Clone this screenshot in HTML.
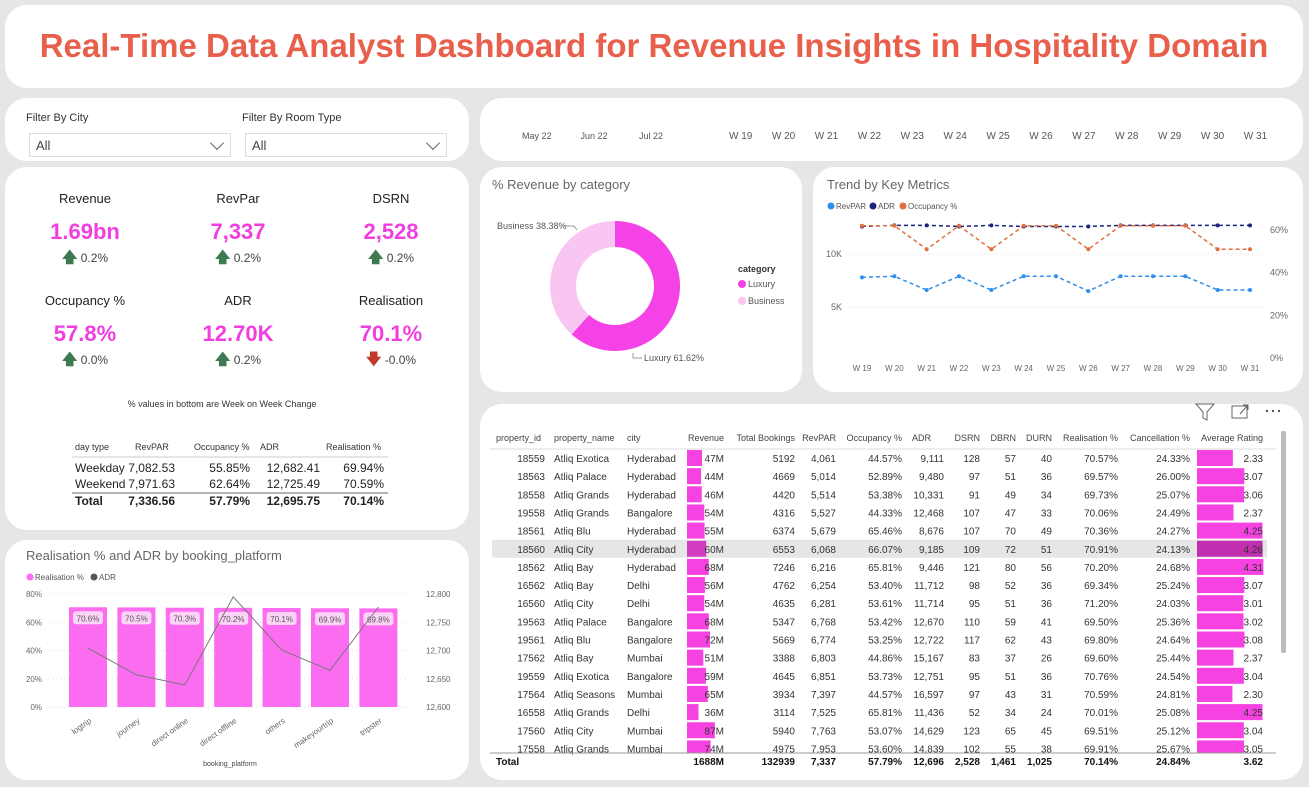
<!DOCTYPE html>
<html><head><meta charset="utf-8">
<style>
*{box-sizing:border-box;margin:0;padding:0}
body{width:1309px;height:787px;background:#e6e6e6;font-family:"Liberation Sans",sans-serif;position:relative;overflow:hidden;color:#333}
.p{position:absolute;background:#fff;border-radius:22px}
.t{position:absolute;white-space:nowrap}
svg{position:absolute;left:0;top:0}
.dd{position:absolute;border:1px solid #ddd;height:24px;font-size:13px;color:#444;padding:4px 6px}
.dd:after{content:"";position:absolute;right:8px;top:4px;width:9px;height:9px;border-right:1px solid #666;border-bottom:1px solid #666;transform:rotate(45deg)}
.kl{position:absolute;width:150px;text-align:center;font-size:13px;color:#222}
.kv{position:absolute;width:150px;text-align:center;font-size:22px;font-weight:bold;color:#f03ee0}
.kc{position:absolute;width:150px;text-align:center;font-size:12px;color:#444}
.up{color:#3d7a52;font-weight:bold;font-size:15px}
.dn{color:#c0392b;font-weight:bold;font-size:15px}
</style></head><body>
<div class="p" style="left:5px;top:5px;width:1298px;height:83px"></div>
<div class="t" style="left:5px;width:1298px;top:27px;text-align:center;font-size:33px;font-weight:bold;color:#e8604c">Real-Time Data Analyst Dashboard for Revenue Insights in Hospitality Domain</div>

<div class="p" style="left:5px;top:98px;width:464px;height:63px"></div>
<div class="t" style="left:26px;top:112px;font-size:11px;color:#333">Filter By City</div>
<div class="dd" style="left:29px;top:133px;width:202px">All</div>
<div class="t" style="left:242px;top:112px;font-size:11px;color:#333">Filter By Room Type</div>
<div class="dd" style="left:245px;top:133px;width:202px">All</div>

<div class="p" style="left:480px;top:98px;width:823px;height:63px"></div>
<div id="timeline"></div>

<div class="p" style="left:5px;top:167px;width:464px;height:363px"></div>
<div id="kpis"></div>
<div class="t" style="left:5px;width:434px;top:399px;text-align:center;font-size:9px;color:#333">% values in bottom are Week on Week Change</div>
<div id="daytable"></div>

<div class="p" style="left:480px;top:167px;width:322px;height:225px"></div>
<div class="t" style="left:492px;top:177px;font-size:13px;color:#666">% Revenue by category</div>
<div class="p" style="left:813px;top:167px;width:490px;height:225px"></div>
<div class="t" style="left:827px;top:177px;font-size:13px;color:#666">Trend by Key Metrics</div>

<div class="p" style="left:5px;top:540px;width:464px;height:240px"></div>
<div class="t" style="left:26px;top:548px;font-size:13px;color:#666">Realisation % and ADR by booking_platform</div>

<div class="p" style="left:480px;top:404px;width:823px;height:376px"></div>
<div id="proptable"></div>

<svg id="sv" width="1309" height="787"></svg>

<script>
// ---------- data ----------
const kpiLabels=["Revenue","RevPar","DSRN","Occupancy %","ADR","Realisation"];
const kpiValues=["1.69bn","7,337","2,528","57.8%","12.70K","70.1%"];
const kpiChanges=["0.2%","0.2%","0.2%","0.0%","0.2%","-0.0%"];

const dayHeaders=["day type","RevPAR","Occupancy %","ADR","Realisation %"];
const dayRows=[["Weekday","7,082.53","55.85%","12,682.41","69.94%"],["Weekend","7,971.63","62.64%","12,725.49","70.59%"],["Total","7,336.56","57.79%","12,695.75","70.14%"]];

const donutCats=["Luxury","Business"];
const donutVals=[61.62,38.38];

const weeks=["W 19","W 20","W 21","W 22","W 23","W 24","W 25","W 26","W 27","W 28","W 29","W 30","W 31"];
const revparK=[7.8,7.9,6.6,7.9,6.6,7.9,7.9,6.5,7.9,7.9,7.9,6.6,6.6];
const adrK=[12.6,12.7,12.7,12.6,12.7,12.6,12.6,12.6,12.7,12.7,12.7,12.7,12.7];
const occPct=[62,62,51,62,51,62,62,51,62,62,62,51,51];
const trendLeftTicks=[5,10];
const trendRightTicks=[0,20,40,60];

const platforms=["logtrip","journey","direct online","direct offline","others","makeyourtrip","tripster"];
const realPct=[70.6,70.5,70.3,70.2,70.1,69.9,69.8];
const platAdr=[12704,12657,12639,12795,12701,12665,12777];
const platLeftTicks=[0,20,40,60,80];
const platRightTicks=[12600,12650,12700,12750,12800];

const months=["May 22","Jun 22","Jul 22"];

const tHeaders=["property_id","property_name","city","Revenue","Total Bookings","RevPAR","Occupancy %","ADR","DSRN","DBRN","DURN","Realisation %","Cancellation %","Average Rating"];
const ids=["18559","18563","18558","19558","18561","18560","18562","16562","16560","19563","19561","17562","19559","17564","16558","17560","17558"];
const pnames=["Atliq Exotica","Atliq Palace","Atliq Grands","Atliq Grands","Atliq Blu","Atliq City","Atliq Bay","Atliq Bay","Atliq City","Atliq Palace","Atliq Blu","Atliq Bay","Atliq Exotica","Atliq Seasons","Atliq Grands","Atliq City","Atliq Grands"];
const cities=["Hyderabad","Hyderabad","Hyderabad","Bangalore","Hyderabad","Hyderabad","Hyderabad","Delhi","Delhi","Bangalore","Bangalore","Mumbai","Bangalore","Mumbai","Delhi","Mumbai","Mumbai"];
const revenueM=[47,44,46,54,55,60,68,56,54,68,72,51,59,65,36,87,74];
const bookings=[5192,4669,4420,4316,6374,6553,7246,4762,4635,5347,5669,3388,4645,3934,3114,5940,4975];
const revpar=["4,061","5,014","5,514","5,527","5,679","6,068","6,216","6,254","6,281","6,768","6,774","6,803","6,851","7,397","7,525","7,763","7,953"];
const occ=["44.57%","52.89%","53.38%","44.33%","65.46%","66.07%","65.81%","53.40%","53.61%","53.42%","53.25%","44.86%","53.73%","44.57%","65.81%","53.07%","53.60%"];
const adr=["9,111","9,480","10,331","12,468","8,676","9,185","9,446","11,712","11,714","12,670","12,722","15,167","12,751","16,597","11,436","14,629","14,839"];
const dsrn=[128,97,91,107,107,109,121,98,95,110,117,83,95,97,52,123,102];
const dbrn=[57,51,49,47,70,72,80,52,51,59,62,37,51,43,34,65,55];
const durn=[40,36,34,33,49,51,56,36,36,41,43,26,36,31,24,45,38];
const realis=["70.57%","69.57%","69.73%","70.06%","70.36%","70.91%","70.20%","69.34%","71.20%","69.50%","69.80%","69.60%","70.76%","70.59%","70.01%","69.51%","69.91%"];
const cancel=["24.33%","26.00%","25.07%","24.49%","24.27%","24.13%","24.68%","25.24%","24.03%","25.36%","24.64%","25.44%","24.54%","24.81%","25.08%","25.12%","25.67%"];
const rating=[2.33,3.07,3.06,2.37,4.25,4.26,4.31,3.07,3.01,3.02,3.08,2.37,3.04,2.30,4.25,3.04,3.05];
const totals=["Total","","","1688M","132939","7,337","57.79%","12,696","2,528","1,461","1,025","70.14%","24.84%","3.62"];

// ---------- helpers ----------
const NS="http://www.w3.org/2000/svg";
const sv=document.getElementById('sv');
function S(tag,at,parent){const e=document.createElementNS(NS,tag);for(const k in at)e.setAttribute(k,at[k]);(parent||sv).appendChild(e);return e;}
function T(x,y,txt,at){const e=S('text',Object.assign({x:x,y:y,'font-size':9,fill:'#666','font-family':'Liberation Sans, sans-serif'},at||{}));e.textContent=txt;return e;}
function D(cls,l,t,txt,extra,parent){const d=document.createElement('div');d.className=cls||'t';d.style.cssText='position:absolute;white-space:nowrap;left:'+l+'px;top:'+t+'px;'+(extra||'');d.innerHTML=txt;(parent||document.body).appendChild(d);return d;}

// ---------- timeline ----------
const tl=document.getElementById('timeline');
months.forEach((m,i)=>{const d=D('t',522+i*58.5,131,m,'font-size:9px;color:#555',tl);

});
weeks.forEach((w,i)=>{const d=D('t',729+i*42.9,131,w,'font-size:10px;color:#555',tl);

});

// ---------- KPIs ----------
const kp=document.getElementById('kpis');
kpiLabels.forEach((l,i)=>{const cx=[85,238,391][i%3]-75;const r=Math.floor(i/3);const y0=191+r*102;
const a=D('kl',cx,y0,l,'',kp);
const b=D('kv',cx,y0+28,kpiValues[i],'',kp);
const neg=kpiChanges[i].startsWith('-');
const c=D('kc',cx,y0+56,(neg?'<span class="dn">🡇</span>':'<span class="up">🡅</span>')+' '+kpiChanges[i],'',kp);
});

// ---------- day table ----------
const dt=document.getElementById('daytable');
const dxL=[75,135,194,260,326],dxR=[null,175,250,320,384];
dayHeaders.forEach((h,i)=>{const e=D('t',dxL[i],442,h,'font-size:9px;color:#333',dt);});
S('line',{x1:72,x2:388,y1:457,y2:457,stroke:'#ccc'});
S('line',{x1:72,x2:388,y1:493,y2:493,stroke:'#666'});
dayRows.forEach((r,ri)=>{const y=[461,477,494][ri];r.forEach((v,ci)=>{const bold=ri==2?'font-weight:bold;':'';
const e=ci==0?D('t',75,y,v,'font-size:12px;color:#222;'+bold,dt):D('t',dxR[ci]-80,y,v,'font-size:12px;color:#222;width:80px;text-align:right;'+bold,dt);
});});

// ---------- donut ----------
(function(){const cx=615,cy=286,R=65,r=39;let a0=-Math.PI/2;const cols=['#f542e6','#f9c6f2'];const tot=donutVals.reduce((a,b)=>a+b,0);
donutVals.forEach((v,i)=>{const a1=a0+v/tot*2*Math.PI;const lg=(a1-a0)>Math.PI?1:0;
const p=S('path',{d:`M${cx+R*Math.cos(a0)},${cy+R*Math.sin(a0)} A${R},${R} 0 ${lg} 1 ${cx+R*Math.cos(a1)},${cy+R*Math.sin(a1)} L${cx+r*Math.cos(a1)},${cy+r*Math.sin(a1)} A${r},${r} 0 ${lg} 0 ${cx+r*Math.cos(a0)},${cy+r*Math.sin(a0)} Z`,fill:cols[i]});

a0=a1;});
T(497,229,'Business '+donutVals[1].toFixed(2)+'%',{'font-size':9,fill:'#555'});
S('polyline',{points:'564,226 574,226 577,230',fill:'none',stroke:'#999'});
T(644,361,'Luxury '+donutVals[0].toFixed(2)+'%',{'font-size':9,fill:'#555'});
S('polyline',{points:'633,353 633,358 642,358',fill:'none',stroke:'#999'});
T(738,272,'category',{'font-size':9,fill:'#333','font-weight':'bold'});
donutCats.forEach((c,i)=>{S('circle',{cx:742,cy:284+i*17,r:4,fill:cols[i]});T(748,287+i*17,c,{'font-size':9,fill:'#555'});});})();

// ---------- trend ----------
(function(){const x=i=>862+i*(1250-862)/(weeks.length-1);const yl=v=>360-v*10.6;const yr=v=>358-v*2.133;
[['RevPAR','#2f8ff0'],['ADR','#1a237e'],['Occupancy %','#e07040']].forEach((l,i)=>{const lx=[831,873,903][i];S('circle',{cx:lx,cy:206,r:3.5,fill:l[1]});T(lx+5,209,l[0],{'font-size':8,fill:'#555'});});
trendLeftTicks.forEach(t=>{T(842,yl(t)+3,t+'K',{'font-size':9,'text-anchor':'end'});S('line',{x1:848,x2:1262,y1:yl(t),y2:yl(t),stroke:'#ddd','stroke-dasharray':'1,3'});});
trendRightTicks.forEach(t=>T(1270,yr(t)+3,t+'%',{'font-size':9}));
weeks.forEach((w,i)=>T(x(i),371,w,{'font-size':8,'text-anchor':'middle'}));
function line(vals,yf,col,name){const g=S('g',{});
S('polyline',{points:vals.map((v,i)=>x(i)+','+yf(v)).join(' '),fill:'none',stroke:col,'stroke-width':1.5,'stroke-dasharray':'4,3'},g);
vals.forEach((v,i)=>S('circle',{cx:x(i),cy:yf(v),r:2,fill:col},g));}
line(revparK,yl,'#2f8ff0','revpar-line');line(adrK,yl,'#1a237e','adr-line');line(occPct,yr,'#e07040','occupancy-line');})();

// ---------- platform chart ----------
(function(){const x=i=>88+i*48.4;const yl=v=>707-v*113/80;const yr=v=>707-(v-12600)*113/200;
S('circle',{cx:30,cy:577,r:3.5,fill:'#fc6cf0'});T(35,580,'Realisation %',{'font-size':8,fill:'#555'});
S('circle',{cx:94,cy:577,r:3.5,fill:'#555'});T(99,580,'ADR',{'font-size':8,fill:'#555'});
platLeftTicks.forEach(t=>{T(42,yl(t)+3,t+'%',{'font-size':8,'text-anchor':'end'});S('line',{x1:48,x2:408,y1:yl(t),y2:yl(t),stroke:'#ddd','stroke-dasharray':'1,3'});});
platRightTicks.forEach(t=>T(426,yr(t)+3,t.toLocaleString('en-US'),{'font-size':8}));
platforms.forEach((p,i)=>{const b=S('rect',{x:x(i)-19,y:yl(realPct[i]),width:38,height:707-yl(realPct[i]),fill:'#fc6cf0'});

S('rect',{x:x(i)-15,y:yl(realPct[i])+4,width:30,height:13,rx:3,fill:'#fbd3f6'});
T(x(i),yl(realPct[i])+14,realPct[i].toFixed(1)+'%',{'font-size':8,'text-anchor':'middle',fill:'#555'});
T(x(i)+4,722,p,{'font-size':8,'text-anchor':'end',transform:`rotate(-35 ${x(i)+4} 722)`});});
const pl=S('polyline',{points:platAdr.map((v,i)=>x(i)+','+yr(v)).join(' '),fill:'none',stroke:'#777','stroke-width':1});

T(230,766,'booking_platform',{'font-size':7,'text-anchor':'middle',fill:'#444'});})();

// ---------- property table ----------
(function(){
S('path',{d:'M1196,404 L1214,404 L1207,412 L1207,420 L1203,418 L1203,412 Z',fill:'none',stroke:'#666'});
S('rect',{x:1232,y:406,width:15,height:12,fill:'none',stroke:'#666'});
S('path',{d:'M1240,414 L1248,405 M1243,405 L1248,405 L1248,410',fill:'none',stroke:'#666'});
[1267,1273,1279].forEach(cx=>S('circle',{cx:cx,cy:411,r:1.2,fill:'#555'}));
const cols=[{x:545,a:'end'},{x:554,a:'start'},{x:627,a:'start'},{x:724,a:'end'},{x:795,a:'end'},{x:836,a:'end'},{x:902,a:'end'},{x:944,a:'end'},{x:980,a:'end'},{x:1016,a:'end'},{x:1052,a:'end'},{x:1118,a:'end'},{x:1190,a:'end'},{x:1263,a:'end'}];
const hx=[496,554,627,724,795,836,902,912,980,1016,1052,1118,1190,1263];
tHeaders.forEach((h,i)=>T(hx[i],441,h,{'font-size':9,fill:'#444','text-anchor':i==0||i==1||i==2||i==7?'start':'end'}));
S('line',{x1:490,x2:1276,y1:449,y2:449,stroke:'#ddd'});
S('rect',{x:1281,y:431,width:5,height:222,rx:2,fill:'#bbb'});
const g=S('g',{});const clip=S('clipPath',{id:'cl'});S('rect',{x:485,y:450,width:800,height:303},clip);g.setAttribute('clip-path','url(#cl)');
ids.forEach((id,ri)=>{const y=458+ri*18.15;
if(ri==5)S('rect',{x:492,y:y-9,width:775,height:18,fill:'#e6e6e6'},g);
const rb=S('rect',{x:687,y:y-8,width:revenueM[ri]*0.32,height:16,fill:ri==5?'#d23cc0':'#f542e0'},g);

const ab=S('rect',{x:1197,y:y-8,width:rating[ri]*15.4,height:16,fill:ri==5?'#c22eb0':'#f542e0'},g);

const vals=[id,pnames[ri],cities[ri],revenueM[ri]+'M',bookings[ri],revpar[ri],occ[ri],adr[ri],dsrn[ri],dbrn[ri],durn[ri],realis[ri],cancel[ri],rating[ri].toFixed(2)];
vals.forEach((v,ci)=>T(cols[ci].x,y+4,v,{'font-size':10,fill:'#333','text-anchor':cols[ci].a},g));});
S('line',{x1:490,x2:1276,y1:753,y2:753,stroke:'#999'});
totals.forEach((v,ci)=>{if(v)T(ci==0?496:cols[ci].x,765,v,{'font-size':10,fill:'#111','font-weight':'bold','text-anchor':ci==0?'start':'end'});});
})();
</script>
</body></html>
